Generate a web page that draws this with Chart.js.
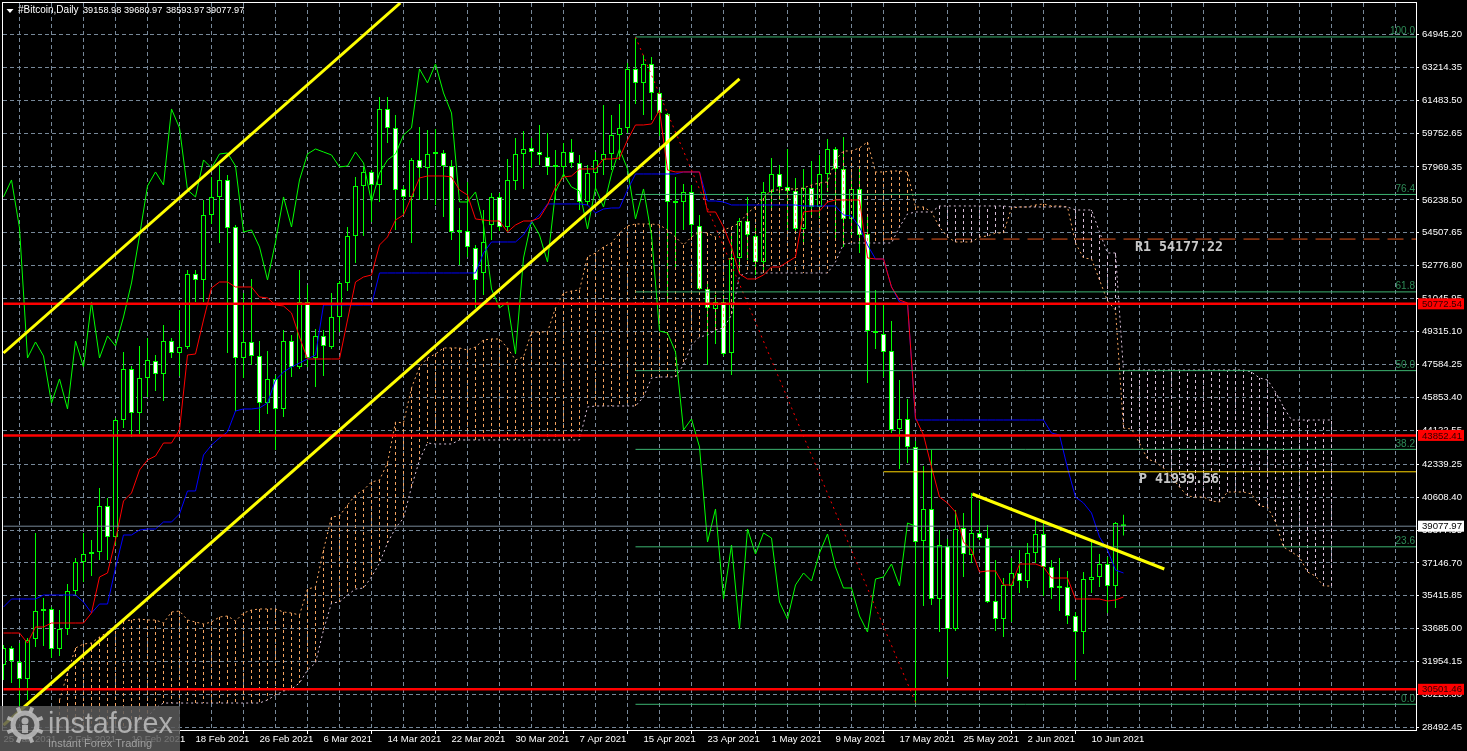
<!DOCTYPE html>
<html>
<head>
<meta charset="utf-8">
<title>#Bitcoin, Daily</title>
<style>
  html, body { margin: 0; padding: 0; background: #000; overflow: hidden; }
  canvas { display: block; }
</style>
<script src="https://cdn.jsdelivr.net/npm/chart.js@4/dist/chart.umd.min.js"></script>
</head>
<body>
<canvas id="chart" width="1467" height="751"></canvas>
<script>
const priceTicks = [64945.20, 63214.35, 61483.50, 59752.65, 57969.35, 56238.50, 54507.65, 52776.80, 51045.95, 49315.10, 47584.25, 45853.40, 44122.55, 42339.25, 40608.40, 38877.55, 37146.70, 35415.85, 33685.00, 31954.15, 30223.30, 28492.45];
const dateLabels = ["25 Jan 2021", "2 Feb 2021", "10 Feb 2021", "18 Feb 2021", "26 Feb 2021", "6 Mar 2021", "14 Mar 2021", "22 Mar 2021", "30 Mar 2021", "7 Apr 2021", "15 Apr 2021", "23 Apr 2021", "1 May 2021", "9 May 2021", "17 May 2021", "25 May 2021", "2 Jun 2021", "10 Jun 2021"];

const opens = [
  31779,32672,31937,31043,33146,34618,34724,32620,33672,35670,
  37195,37615,37721,40140,38510,44663,47345,45031,46872,47766,
  47082,48817,48186,48502,52341,52026,55444,56391,57285,54813,
  47924,48765,48029,45557,46820,45242,48817,47451,50869,47924,
  49081,48502,50080,51868,54340,56969,57706,57022,61019,60019,
  56812,56391,58337,57916,58652,58705,58021,54550,54603,53708,
  52394,54918,56391,54813,57232,58652,58968,58757,58494,57968,
  57968,58757,58179,56128,57653,58337,58652,59651,60019,63123,
  62386,63385,61860,60756,56075,56128,56654,54866,51552,50501,
  50869,48186,53183,55128,54340,52972,56654,57600,56917,56706,
  54708,56864,55865,57600,58915,57863,55234,56812,54445,49344,
  49186,48292,44190,44716,43243,38300,39983,35249,38037,33672,
  38983,37563,38720,38457,35144,34198,35934,36617,36196,37668,
  38668,36933,35881,35881,34355,33513,36249,36407,37090,35934,39158.98
];
const highs = [
  32830,32777,32935,33198,38720,35302,34829,34671,36039,37405,
  38720,38352,41087,40561,44768,48239,47503,48554,48975,48081,
  49659,48975,50448,52552,52552,56233,57443,58074,57548,54918,
  51342,52079,48817,48292,47030,49396,49133,52552,51763,49449,
  49396,51342,51973,54813,57443,57968,57811,61650,61650,60703,
  56969,58442,60072,59914,59967,58862,58337,55812,57180,53866,
  55707,56601,56601,58389,59493,59862,59493,60177,59756,58862,
  59230,59441,58599,58074,58757,61229,60703,61281,63438,64753,
  63859,63753,62018,60808,57443,57074,57022,55444,51921,51237,
  51237,54445,55286,56391,54813,57180,58442,58074,58915,57390,
  57863,58284,58599,59441,59020,59546,57285,57968,55444,51500,
  50711,49869,46767,45768,43559,42244,43085,38878,38405,39930,
  39772,40824,40403,39141,37300,36354,37405,37826,38194,39404,
  39299,37300,37405,36723,34566,36670,38247,37615,37458,39299,39680.97
];
const lows = [
  30990,30832,29570,29938,32725,32777,32147,32252,33356,35460,
  36144,36459,37300,37300,38089,44242,43769,43927,45873,46188,
  45662,47924,46977,48397,50869,50869,54970,53971,48186,45136,
  46872,47556,43979,44978,43085,44820,46925,47345,47451,46399,
  46977,48397,49291,51447,52920,54340,55076,56128,59230,54655,
  55444,53971,56233,56233,55970,55339,54129,52815,53235,50553,
  51237,54129,54603,54603,56759,56812,57916,58074,57548,56233,
  57443,57916,55707,55970,56759,57548,57811,58337,59756,61281,
  60703,60440,59599,50816,52552,54655,54129,51500,47556,48659,
  48029,47030,52394,53077,52289,52394,55707,56233,54655,54550,
  53866,55444,55286,56654,54129,53761,54287,53446,46609,48397,
  46925,43979,42086,42401,29780,34881,34934,33513,31147,33566,
  36407,37142,38352,35039,33566,33250,34040,35565,35828,37142,
  35408,35250,34618,33935,30990,32357,35565,35881,34513,34776,38593.97
];
const closes = [
  32672,31989,31043,33093,34618,34724,32620,33672,35670,37195,
  37615,37721,40140,38510,44663,47345,45031,46872,47819,47082,
  48817,48186,48502,52341,52026,55444,56391,57285,54760,47924,
  48765,48029,45557,46820,45242,48817,47451,50869,47924,49081,
  48554,50080,51868,54340,56969,57706,57022,61019,60019,56759,
  56391,58337,57916,58652,58705,58021,54550,54655,53761,52026,
  54024,56391,54813,57285,58652,58915,58757,58599,57968,58021,
  58757,58179,56128,57653,58337,58652,59651,60019,63123,62386,
  63385,61860,60808,56128,56128,56654,54918,51552,50553,50869,
  48134,53183,55128,54392,52972,56654,57600,56917,56706,54708,
  56864,55865,57600,58915,57863,55234,56812,54392,49344,49239,
  48239,44137,44716,43243,38247,39983,35249,38089,33672,38931,
  37615,38720,38457,35092,34198,35986,36617,36196,37668,38668,
  36933,35828,35828,34355,33513,36302,36407,37090,35934,39247,39077.97
];

// ichimoku lines
const tenkan = [
  33461,33461,33461,32935,33777,33777,33987,33987,33987,33987,
  33987,34513,36407,36617,38352,40403,40824,42034,42559,42770,
  43453,43453,44137,48081,48134,49922,51605,51920,51920,51658,
  51658,51658,51132,51079,50711,50659,50290,49028,47871,47871,
  47871,47871,47871,49922,51920,52183,52289,53866,54287,55181,
  55444,56391,57390,57495,57495,57495,57443,56759,56496,55234,
  55181,55128,55128,54550,54918,55128,55128,55286,55970,56917,
  57443,57495,57863,57863,57863,58389,58389,58442,59388,60177,
  60177,60230,60966,57811,57706,57706,57706,57706,55602,55602,
  54813,53761,52341,52079,52079,52289,52710,52710,52972,53235,
  55602,55654,55654,56128,56233,56233,56233,56233,53183,53130,
  53130,51658,50974,50816,44768,43874,42192,40613,40297,39824,
  38247,37826,36670,36723,36723,35986,35986,37090,37090,37090,
  36933,36354,36354,36354,35250,35250,35250,35250,35144,35197,35355
];
const kijun = [
  34829,35250,35250,35250,35250,35460,35460,35460,35460,35460,
  35092,34513,34986,34986,36880,38615,38615,38878,38931,38931,
  39299,39299,39720,40930,40930,42822,43348,43716,44032,45136,
  45242,45242,45294,45557,46767,47187,47451,47661,47871,48081,
  50711,50711,50711,50711,50711,50711,50711,52394,52394,52394,
  52394,52394,52394,52394,52394,52394,52394,52394,52394,52394,
  53446,54024,54024,54024,54024,54392,55076,55444,56023,56023,
  56023,56023,56023,55970,55549,55760,55812,55812,56759,57600,
  57600,57600,57600,57600,57600,57706,57706,57706,56180,56180,
  56128,55970,55970,55970,55970,55970,55970,55970,55970,55970,
  55917,55917,55917,55917,55917,55444,55391,54813,53866,53130,
  53130,51658,50869,50816,44663,44663,44663,44663,44663,44663,
  44663,44663,44663,44663,44663,44663,44663,44663,44663,44663,
  44663,43979,43874,42139,40613,40297,39772,38510,37826,36775,36617
];
const chikou = [
  56391,57285,54760,47924,
  48765,48029,45557,46820,45242,48817,47451,50869,47924,49081,
  48554,50080,51868,54340,56969,57706,57022,61019,60019,56759,
  56391,58337,57916,58652,58705,58021,54550,54655,53761,52026,
  54024,56391,54813,57285,58652,58915,58757,58599,57968,58021,
  58757,58179,56128,57653,58337,58652,59651,60019,63123,62386,
  63385,61860,60808,56128,56128,56654,54918,51552,50553,50869,
  48134,53183,55128,54392,52972,56654,57600,56917,56706,54708,
  56864,55865,57600,58915,57863,55234,56812,54392,49344,49239,
  48239,44137,44716,43243,38247,39983,35249,38089,33672,38931,
  37615,38720,38457,35092,34198,35986,36617,36196,37668,38668,
  36933,35828,35828,34355,33513,36302,36407,37090,35934,39247,39077.97
];
const senkouA = [
  null,null,null,null,null,null,null,29938,31357,32672,
  32883,32935,33251,33514,33882,34092,34145,34198,34145,34145,
  33987,34566,34618,34145,34040,33935,34040,34303,34355,34092,
  34513,34671,34724,34724,34724,34566,34513,34408,35775,35880,
  37826,39562,39615,40193,40718,40982,41403,41508,42402,44558,
  44506,46346,47451,47924,48134,48450,48450,48450,48344,48502,
  48870,48923,48923,48450,47819,47976,49291,49291,49291,50553,
  51342,51447,51500,53235,53446,53761,53971,54497,54866,54971,
  54971,54971,54918,54655,54287,53866,54287,54550,54497,54287,
  54655,54813,55023,55549,55865,56338,56759,56759,56812,56812,
  56864,57022,57127,57180,58337,58810,58810,58968,59283,57706,
  57706,57758,57758,57706,55865,55865,55602,54813,54287,54024,
  54024,54024,54287,54340,54497,54497,55812,55865,55865,55970,
  56023,55917,55917,55865,53971,53183,53130,52026,50921,50448,
  44242,44190,43453,42612,42454,42139,41665,41140,40666,40613,
  40613,40403,40351,40877,40877,40877,40771,40140,40088,39299,
  37984,37721,37458,36670,36459,35934,35934
];
const senkouB = [
  null,null,null,null,null,null,null,28518,28518,28518,
  28518,28518,28518,28518,28518,28518,28518,28781,29044,29517,
  29780,29780,29780,29780,29780,29780,29780,29780,29780,29780,
  29780,29780,29780,29938,30200,30411,30517,30832,31516,31884,
  33619,35039,35092,35460,35775,35828,36407,37142,38194,38983,
  39509,41140,42559,43453,43401,43401,43401,43611,43611,43611,
  43611,43611,43611,43611,43611,43611,43611,43611,43611,43611,
  43611,43611,43611,45347,45399,45399,45399,45399,45399,45399,
  45873,46872,46924,46924,46924,47556,48607,49028,49133,49396,
  49501,50185,52236,52394,52394,52394,52394,52394,52394,52394,
  52394,52394,52394,52394,52972,53919,53971,53971,53971,53971,
  53971,53971,54813,55497,55602,55602,55602,55917,55917,55917,
  55917,55917,55917,55917,55917,55917,55865,55865,55865,55865,
  55865,55865,55865,55865,55707,55707,55707,54550,53446,53446,
  47240,47293,47293,47293,47293,47293,47293,47293,47293,47293,
  47293,47293,47293,47293,47293,47293,47187,46872,46767,46136,
  45347,44663,44663,44663,44663,44663,44663
];

const supportLevels = [50772.54, 43852.41, 30501.46];
const bidPrice = 39077.97;
const fibLevels = [64805, 56523, 51399, 47258, 43118, 37994, 29712];
const fibNames = ["100.0", "76.4", "61.8", "50.0", "38.2", "23.6", "0.0"];
const fibStartBar = 79;
const fibBase = [[79, 64805], [114.1, 29712]];
const pivotStartBar = 110;
const r1Level = 54177.22;
const pivotLevel = 41939.56;
const channelUpper = [[0, 48186], [49.6, 66593]];
const channelLower = [[0, 28623], [92, 62596]];
const downTrend = [[121.1, 40772], [145.1, 36827]];

const lastBar = 176.5625;
const red = "#ff0000";
const lime = "#00ff00";
const yellow = "#ffff00";
const sandy = "#f4a460";
const thistle = "#d8bfd8";
const grey = "#778899";
const fibGreen = "#3cb371";
const uiFont = "'Liberation Sans', Arial, sans-serif";

function toPoints(values, start) {
  return values.map((v, i) => ({ x: i + (start || 0), y: v }));
}

function levelLine(value, from, color, width, dash, order) {
  return {
    type: "line",
    data: [{ x: from, y: value }, { x: lastBar, y: value }],
    borderColor: color,
    borderWidth: width,
    borderDash: dash || [],
    pointRadius: 0,
    order: order
  };
}

function pairLine(pairs, color, width, dash, order) {
  return {
    type: "line",
    data: pairs.map(p => ({ x: p[0], y: p[1] })),
    borderColor: color,
    borderWidth: width,
    borderDash: dash || [],
    pointRadius: 0,
    order: order
  };
}

function indicatorLine(values, color, dash, order) {
  return {
    type: "line",
    data: toPoints(values),
    borderColor: color,
    borderWidth: 1,
    borderDash: dash || [],
    pointRadius: 0,
    tension: 0,
    order: order
  };
}

// vertical cloud hatching, one dashed stroke per bar
function cloudHatch(upper) {
  const pts = [];
  senkouA.forEach((a, i) => {
    const b = senkouB[i];
    if (a === null || b === null) return;
    if ((a > b) === upper) {
      pts.push({ x: i, y: a }, { x: i, y: b }, { x: i, y: null });
    }
  });
  return {
    type: "line",
    data: pts,
    borderColor: upper ? sandy : thistle,
    borderWidth: 1,
    borderDash: [3, 3],
    pointRadius: 0,
    order: 50
  };
}

function drawWatermark(ctx) {
  ctx.save();
  ctx.fillStyle = "rgba(90,90,90,0.85)";
  ctx.fillRect(0, 706, 180, 45);

  // gear
  ctx.strokeStyle = "rgba(190,190,190,0.85)";
  ctx.lineWidth = 5;
  ctx.beginPath();
  ctx.arc(25, 725, 12, 0, Math.PI * 2);
  ctx.stroke();
  ctx.lineWidth = 4;
  for (let i = 0; i < 8; i++) {
    const a = i * Math.PI / 4 + Math.PI / 8;
    ctx.beginPath();
    ctx.moveTo(25 + Math.cos(a) * 13, 725 + Math.sin(a) * 13);
    ctx.lineTo(25 + Math.cos(a) * 19, 725 + Math.sin(a) * 19);
    ctx.stroke();
  }
  ctx.fillStyle = "rgba(190,190,190,0.85)";
  ctx.beginPath();
  ctx.arc(25, 721, 3.5, 0, Math.PI * 2);
  ctx.fill();
  ctx.fillRect(22, 725, 6, 8);

  ctx.textAlign = "left";
  ctx.textBaseline = "alphabetic";
  ctx.font = "28.8px " + uiFont;
  ctx.fillStyle = "rgba(185,185,185,0.9)";
  ctx.fillText("instaforex", 48, 733);
  ctx.font = "11px " + uiFont;
  ctx.fillStyle = "rgba(170,170,170,0.9)";
  ctx.fillText("Instant Forex Trading", 48, 747);
  ctx.restore();
}

const overlay = {
  id: "overlay",
  afterDraw(chart) {
    const ctx = chart.ctx;
    const y = chart.scales.y;
    ctx.save();

    // frame
    ctx.strokeStyle = "#ffffff";
    ctx.lineWidth = 1;
    ctx.strokeRect(2.5, 2.5, 1414, 728);

    // header
    ctx.fillStyle = "#ffffff";
    ctx.beginPath();
    ctx.moveTo(6.5, 9);
    ctx.lineTo(13.5, 9);
    ctx.lineTo(10, 13);
    ctx.closePath();
    ctx.fill();
    ctx.textBaseline = "middle";
    ctx.textAlign = "left";
    ctx.font = "10px " + uiFont;
    ctx.fillStyle = "#ffffff";
    ctx.fillText("#Bitcoin,Daily", 18, 10.5);
    ctx.font = "9.2px " + uiFont;
    ctx.fillText("39158.98", 83, 10.5);
    ctx.fillText("39680.97", 124, 10.5);
    ctx.fillText("38593.97", 166, 10.5);
    ctx.fillText("39077.97", 206, 10.5);

    // fibo labels
    ctx.textAlign = "right";
    ctx.font = "10px " + uiFont;
    ctx.fillStyle = "#2e8b57";
    fibLevels.forEach((v, i) => {
      ctx.fillText(fibNames[i], 1415, y.getPixelForValue(v) - 5.5);
    });

    // pivot labels
    ctx.textAlign = "left";
    ctx.font = "bold 13.3px 'DejaVu Sans Mono', monospace";
    ctx.fillStyle = "#c8c8c8";
    ctx.fillText("R1 " + r1Level.toFixed(2), 1135, y.getPixelForValue(r1Level) + 8);
    ctx.fillText("P " + pivotLevel.toFixed(2), 1139, y.getPixelForValue(pivotLevel) + 8);

    // price boxes on the axis
    ctx.font = "9.6px " + uiFont;
    supportLevels.forEach(v => {
      const py = y.getPixelForValue(v);
      ctx.fillStyle = red;
      ctx.fillRect(1418, py - 5.5, 46, 11);
      ctx.fillStyle = "#300000";
      ctx.fillText(v.toFixed(2), 1422, py + 0.5);
    });
    const bidY = y.getPixelForValue(bidPrice);
    ctx.fillStyle = "#ffffff";
    ctx.fillRect(1418, bidY - 5.5, 46, 11);
    ctx.fillStyle = "#000000";
    ctx.fillText(bidPrice.toFixed(2), 1422, bidY + 0.5);

    ctx.restore();
    drawWatermark(ctx);
  }
};

const bars = opens.map((o, i) => i);
const bodyFill = opens.map((o, i) => closes[i] >= o ? "#000000" : "#ffffff");

const datasets = [
  {
    type: "bar",
    data: bars.map(i => ({ x: i, y: [lows[i], highs[i]] })),
    backgroundColor: lime,
    borderWidth: 0,
    barThickness: 1,
    inflateAmount: 0,
    grouped: false,
    order: 70
  },
  {
    type: "bar",
    data: bars.map(i => ({ x: i, y: [opens[i], closes[i]] })),
    backgroundColor: bodyFill,
    borderColor: lime,
    borderWidth: 1,
    borderSkipped: false,
    barThickness: 5,
    minBarLength: 2,
    inflateAmount: 0,
    grouped: false,
    order: 60
  },
  cloudHatch(true),
  cloudHatch(false),
  indicatorLine(senkouA, sandy, [2, 3], 45),
  indicatorLine(senkouB, thistle, [2, 3], 44),
  indicatorLine(chikou, lime, [], 40),
  indicatorLine(kijun, "#0000ff", [], 35),
  indicatorLine(tenkan, red, [], 30),
  pairLine(fibBase, red, 1, [2, 4], 28)
];

fibLevels.forEach(v => datasets.push(levelLine(v, fibStartBar, fibGreen, 1, [], 25)));
datasets.push(levelLine(bidPrice, 0, grey, 1, [], 24));
datasets.push(levelLine(r1Level, pivotStartBar, "#e2571e", 1, [16, 8], 23));
datasets.push(levelLine(pivotLevel, pivotStartBar, "#ffd700", 1, [], 22));
supportLevels.forEach(v => datasets.push(levelLine(v, 0, red, 2.5, [], 15)));
datasets.push(pairLine(channelUpper, yellow, 3, [], 10));
datasets.push(pairLine(channelLower, yellow, 3, [], 10));
datasets.push(pairLine(downTrend, yellow, 3, [], 10));

new Chart(document.getElementById("chart").getContext("2d"), {
  type: "bar",
  data: { datasets },
  plugins: [overlay],
  options: {
    responsive: false,
    animation: false,
    events: [],
    layout: { padding: { left: 3, top: 3, right: 0, bottom: 0 } },
    plugins: { legend: { display: false }, tooltip: { enabled: false } },
    scales: {
      x: {
        type: "linear",
        min: -0.0625,
        max: lastBar,
        offset: false,
        afterBuildTicks(scale) {
          const t = [];
          for (let k = 0; k <= 176; k += 4) t.push({ value: k });
          scale.ticks = t;
        },
        afterFit(scale) {
          scale.height = 21;
          scale.paddingLeft = 0;
          scale.paddingRight = 0;
        },
        grid: {
          color: grey,
          drawTicks: true,
          tickLength: 4,
          tickColor: c => (c.tick && c.tick.value % 8 === 0 && dateLabels[c.tick.value / 8]) ? "#ffffff" : "rgba(0,0,0,0)"
        },
        border: { display: false, dash: [4, 3] },
        ticks: {
          autoSkip: false,
          maxRotation: 0,
          align: "start",
          padding: 0,
          color: "#ffffff",
          font: { family: uiFont, size: 9.6 },
          callback: v => (v % 8 === 0 && dateLabels[v / 8]) ? dateLabels[v / 8] : ""
        }
      },
      y: {
        position: "right",
        min: 28361,
        max: 66591,
        afterBuildTicks(scale) {
          scale.ticks = priceTicks.map(v => ({ value: v }));
        },
        afterFit(scale) {
          scale.width = 51;
          scale.paddingTop = 0;
          scale.paddingBottom = 0;
        },
        grid: {
          color: grey,
          drawTicks: true,
          tickLength: 3,
          tickColor: "#ffffff"
        },
        border: { display: false, dash: [4, 3] },
        ticks: {
          autoSkip: false,
          padding: 3,
          color: "#ffffff",
          font: { family: uiFont, size: 9.6 },
          callback: v => v.toFixed(2)
        }
      }
    }
  }
});
</script>
</body>
</html>
